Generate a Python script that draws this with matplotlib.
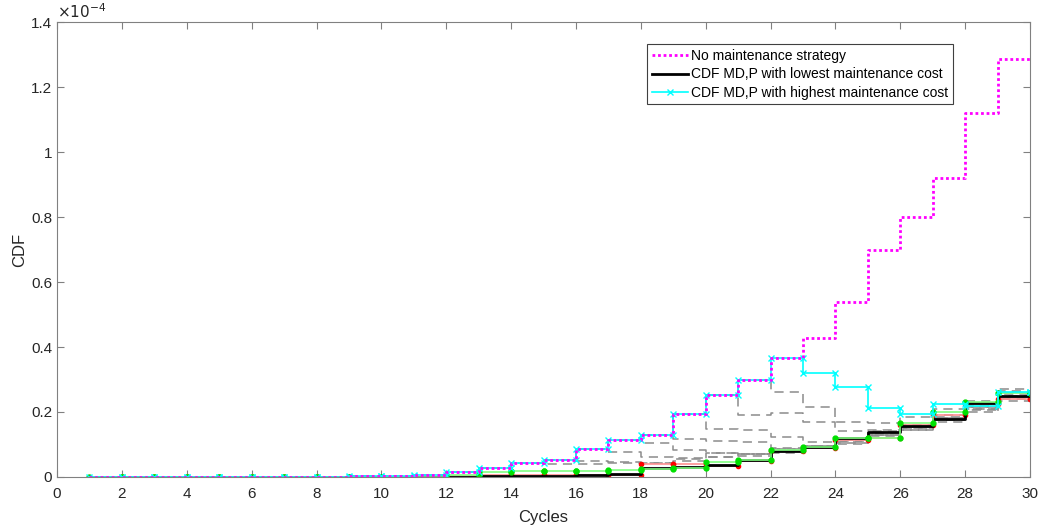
import numpy as np
import matplotlib
matplotlib.use("Agg")
import matplotlib.pyplot as plt

plt.rcParams['font.family'] = ['Liberation Sans', 'DejaVu Sans']

# cycles 1..30, CDF values in units of 1e-4
cycles = list(range(1, 31))

no_maint = [0, 0, 0, 0, 0, 0, 0, 0, 0.002, 0.004, 0.005, 0.014, 0.029, 0.044, 0.052,
            0.087, 0.114, 0.129, 0.194, 0.252, 0.30, 0.365, 0.427, 0.54, 0.70,
            0.80, 0.92, 1.12, 1.285, 1.285]
highest = no_maint[:22] + [0.32, 0.278, 0.211, 0.193, 0.224, 0.218, 0.262, 0.262]
lowest = [0, 0, 0, 0, 0, 0, 0, 0, 0, 0, 0, 0.001, 0.002, 0.003, 0.004,
          0.005, 0.01, 0.027, 0.032, 0.038, 0.052, 0.08, 0.091, 0.119, 0.137,
          0.158, 0.177, 0.227, 0.249, 0.249]
red_cdf = [0, 0, 0, 0, 0, 0, 0, 0, 0, 0, 0, 0.003, 0.005, 0.006, 0.006,
           0.006, 0.007, 0.04, 0.04, 0.034, 0.05, 0.079, 0.09, 0.115, 0.12,
           0.16, 0.19, 0.225, 0.239, 0.239]
green_cdf = [0, 0, 0, 0, 0, 0, 0, 0, 0, 0, 0, 0.005, 0.015, 0.017, 0.018,
             0.019, 0.021, 0.024, 0.027, 0.045, 0.053, 0.082, 0.093, 0.119, 0.119,
             0.167, 0.201, 0.232, 0.257, 0.257]

# other strategies: follow no maintenance until the first maintenance cycle
other_tails = {
    15: [0.04, 0.04, 0.043, 0.044, 0.05, 0.06, 0.07, 0.085, 0.095, 0.115, 0.13, 0.155, 0.18, 0.215, 0.245, 0.245],
    16: [0.049, 0.046, 0.044, 0.054, 0.073, 0.07, 0.085, 0.095, 0.11, 0.13, 0.15, 0.18, 0.21, 0.25, 0.25],
    17: [0.076, 0.06, 0.058, 0.06, 0.065, 0.08, 0.088, 0.105, 0.125, 0.145, 0.175, 0.2, 0.24, 0.24],
    18: [0.104, 0.083, 0.075, 0.07, 0.075, 0.09, 0.1, 0.13, 0.15, 0.17, 0.205, 0.235, 0.235],
    19: [0.117, 0.112, 0.109, 0.088, 0.095, 0.109, 0.14, 0.16, 0.18, 0.21, 0.245, 0.245],
    20: [0.148, 0.145, 0.124, 0.109, 0.12, 0.135, 0.145, 0.185, 0.215, 0.255, 0.255],
    21: [0.19, 0.196, 0.168, 0.143, 0.145, 0.155, 0.19, 0.22, 0.265, 0.265],
    22: [0.262, 0.216, 0.17, 0.166, 0.185, 0.21, 0.235, 0.27, 0.27],
}


def stairs(x, y):
    # matlab-like stairs vertices so markers sit on every corner
    x = np.asarray(x, float)
    y = np.asarray(y, float)
    xs = np.repeat(x, 2)[1:]
    ys = np.repeat(y, 2)[:-1]
    return xs, ys


fig = plt.figure(figsize=(10.39, 5.28), dpi=100)
ax = fig.add_axes([0.0549, 0.0966, 0.9365, 0.8617])

for start, tail in other_tails.items():
    vals = no_maint[:start - 1] + tail
    xs, ys = stairs(cycles, vals)
    ax.plot(xs, ys, color='#8c8c8c', lw=1.1, ls=(0, (6, 4)))

xs, ys = stairs(cycles, red_cdf)
ax.plot(xs, ys, color='#ff9090', lw=1.2, marker='.', ms=6, mfc='red', mec='red')
xs, ys = stairs(cycles, lowest)
l2, = ax.plot(xs, ys, color='black', lw=2)
xs, ys = stairs(cycles, green_cdf)
ax.plot(xs, ys, color='#80ff80', lw=1.2, marker='.', ms=7, mfc='#00e000', mec='#00e000')
xs, ys = stairs(cycles, highest)
l3, = ax.plot(xs, ys, color='cyan', lw=1.2, marker='x', ms=5)
xs, ys = stairs(cycles, no_maint)
l1, = ax.plot(xs, ys, color='magenta', lw=2, ls=(0, (1, 1)))

ax.set_xlim(0, 30)
ax.set_ylim(0, 1.4)
ax.set_xticks(np.arange(0, 31, 2))
ax.set_yticks(np.arange(0, 1.41, 0.2))
ax.yaxis.set_major_formatter(plt.FuncFormatter(lambda v, p: '%g' % round(v, 2)))
ax.tick_params(direction='in', top=True, right=True, length=5, width=0.8,
               colors='#808080', labelcolor='#262626', labelsize=11)
ax.tick_params(axis='x', pad=7)
for s in ax.spines.values():
    s.set_color('#808080')
    s.set_linewidth(0.8)
ax.set_xlabel('Cycles', fontsize=12, color='#262626', labelpad=7)
ax.set_ylabel('CDF', fontsize=12, color='#262626', labelpad=3)
ax.text(0, 1.003, r'$\times10^{-4}$', transform=ax.transAxes, fontsize=11,
        color='#262626', va='bottom', ha='left')

leg = ax.legend([l1, l2, l3],
                ['No maintenance strategy', 'CDF MD,P with lowest maintenance cost',
                 'CDF MD,P with highest maintenance cost'],
                loc='upper right', bbox_to_anchor=(0.928, 0.966), fontsize=10,
                fancybox=False, framealpha=1, edgecolor='#404040',
                handlelength=2.6, handletextpad=0.2, borderpad=0.35, labelspacing=0.3)
leg.get_frame().set_linewidth(0.8)

fig.savefig('out.png', dpi=100)
